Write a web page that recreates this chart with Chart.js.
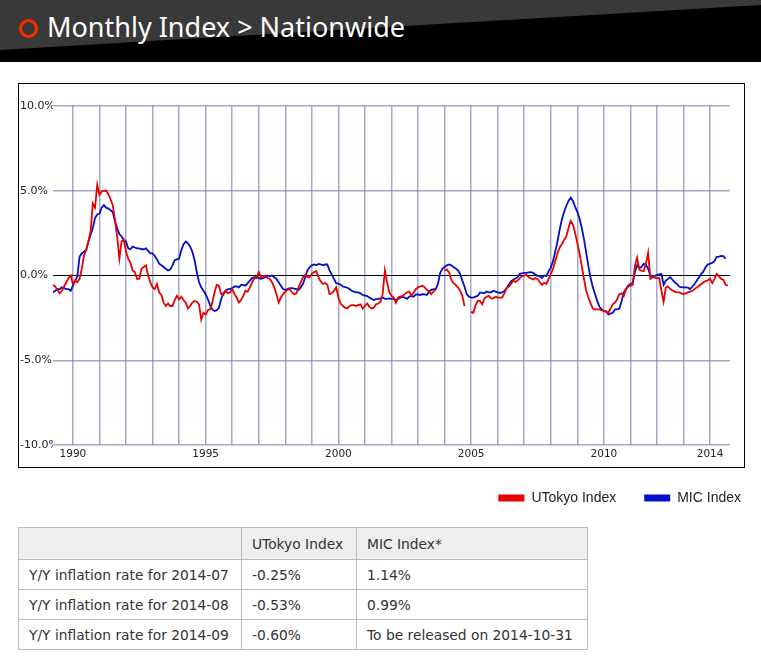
<!DOCTYPE html>
<html>
<head>
<meta charset="utf-8">
<script src="https://cdn.jsdelivr.net/npm/chart.js@4/dist/chart.umd.min.js"></script>
<style>
  html, body { margin: 0; padding: 0; }
  body { width: 761px; height: 658px; overflow: hidden; background: #fff; position: relative; }
  #hdr { position: absolute; left: 0; top: 0; width: 761px; height: 62px; background: #000; overflow: hidden; }
  #hdr .gray { position: absolute; left: 0; top: 0; width: 761px; height: 62px; background: #393939;
    clip-path: polygon(0 0, 100% 0, 100% 5px, 0 50px); }
  #ring { position: absolute; left: 19px; top: 19px; width: 19px; height: 19px; box-sizing: border-box;
    border: 3.5px solid #ff2a00; border-radius: 50%; }
  #title { position: absolute; left: 47px; top: 13px; font-family: "Noto Sans", sans-serif; font-size: 27px;
    line-height: 1; color: #fff; white-space: nowrap; }
  #cv { position: absolute; left: 0; top: 83px; }
  table { position: absolute; left: 18px; top: 527px; border-collapse: collapse;
    font-family: "DejaVu Sans", sans-serif; font-size: 13.8px; color: #333; }
  td { border: 1px solid #bbb; padding: 0 0 0 10px; height: 29px; }
  tr.head td { background: #eeeeee; height: 31px; }
</style>
</head>
<body>
<div id="hdr"><div class="gray"></div><div id="ring"></div><div id="title">Monthly Index &gt; Nationwide</div></div>
<canvas id="cv" width="769" height="432" style="width:769px;height:432px"></canvas>
<table>
  <tr class="head"><td style="width:212px"></td><td style="width:104px">UTokyo Index</td><td style="width:220px">MIC Index*</td></tr>
  <tr><td>Y/Y inflation rate for 2014-07</td><td>-0.25%</td><td>1.14%</td></tr>
  <tr><td>Y/Y inflation rate for 2014-08</td><td>-0.53%</td><td>0.99%</td></tr>
  <tr><td>Y/Y inflation rate for 2014-09</td><td>-0.60%</td><td>To be released on 2014-10-31</td></tr>
</table>
<script>
// ---- data (monthly Y/Y inflation rate, %, starting 1989-04) ----
const startYear = 1989;
const startMonth = 4;
const seriesNames = ['UTokyo Index', 'MIC Index'];
const utokyo = [
  -0.55, -0.65, -0.85, -1.05, -0.9, -0.65, -0.4, -0.15, 0.0, -0.5, -0.3, -0.4,
  -0.2, 0.4, 1.2, 1.5, 2.0, 2.6, 4.25, 4.0, 5.35, 4.75, 4.95, 5.0,
  5.0, 4.8, 4.5, 4.15, 3.3, 2.3, 1.0, 2.0, 2.1, 1.4, 1.0, 0.75,
  0.3, 0.2, -0.2, -0.2, 0.4, 0.5, 0.6, 0.0, -0.4, -0.7, -0.8, -0.5,
  -1.0, -1.15, -1.6, -1.8, -1.65, -1.8, -1.8, -1.45, -1.2, -1.4, -1.25, -1.45,
  -1.6, -1.95, -1.8, -1.6, -1.5, -1.55, -1.7, -2.6, -2.2, -2.3, -2.05, -2.0,
  -1.6, -1.0, -0.55, -0.6, -1.1, -1.15, -0.9, -1.05, -1.0, -0.8, -1.1, -1.3,
  -1.6, -1.45, -1.2, -0.9, -0.95, -0.7, -0.4, -0.15, -0.15, 0.2, -0.1, -0.1,
  0.0, -0.15, -0.2, -0.4, -0.7, -1.1, -1.6, -1.3, -1.1, -0.95, -0.85, -0.8,
  -1.0, -1.1, -1.05, -0.7, -0.4, -0.1, 0.05, -0.1, -0.1, 0.1, 0.2, 0.25,
  -0.1, -0.35, -0.5, -0.45, -0.55, -1.1, -1.05, -0.9, -0.7, -1.3, -1.65, -1.8,
  -1.9, -1.95, -1.8, -1.75, -1.75, -1.8, -1.75, -1.7, -1.95, -1.8, -1.65, -1.85,
  -1.95, -1.9, -1.7, -1.65, -1.55, -1.1, 0.3, -0.4, -1.0, -1.2, -1.3, -1.6,
  -1.3, -1.25, -1.2, -1.1, -1.0, -0.95, -1.2, -1.0, -0.8, -0.7, -0.65, -0.6,
  -0.7, -0.85, -0.95, -1.1, -0.95, -0.82, null, null, null, 0.3, 0.35, 0.2,
  -0.25, -0.45, -0.55, -0.7, -0.9, -1.2, -1.8, null, null, -2.15, -2.2, -1.75,
  -1.5, -1.5, -1.7, -1.35, -1.25, -1.2, -1.35, -1.35, -1.25, -1.3, -1.3, -1.3,
  -1.05, -0.75, -0.65, -0.5, -0.3, -0.38, -0.3, -0.15, -0.05, 0.0, 0.04, -0.1,
  -0.18, -0.24, -0.15, -0.2, -0.4, -0.55, -0.42, -0.5, -0.2, 0.1, 0.38, 0.85,
  1.3, 1.65, 1.85, 2.1, 2.3, 2.8, 3.22, 3.0, 2.5, 1.9, 1.3, 0.55,
  -0.2, -0.9, -1.3, -1.65, -1.95, -2.0, -2.0, -2.0, -2.05, -2.1, -2.15, -2.2,
  -1.95, -1.7, -1.6, -1.4, -1.1, -1.05, -1.2, -0.8, -0.65, -0.6, -0.55, 0.55,
  1.05, 0.35, 0.28, 0.25, 0.7, 1.35, -0.2, -0.1, -0.12, -0.15, -0.15, -0.9,
  -1.55, -0.7, -0.65, -0.8, -0.88, -0.95, -1.0, -1.0, -1.05, -1.1, -1.05, -1.0,
  -0.95, -0.9, -0.8, -0.7, -0.6, -0.5, -0.4, -0.33, -0.28, -0.2, -0.45, -0.2,
  0.1, -0.05, -0.2, -0.25, -0.53, -0.60
];
const mic = [
  -1.0, -0.9, -0.8, -0.8, -0.7, -0.75, -0.8, -0.8, -0.9, -0.6, -0.3, -0.05,
  1.1, 1.3, 1.4, 1.5, 2.0, 2.4, 2.8, 3.4, 3.6, 3.65, 4.0, 4.15,
  4.0, 3.95, 3.85, 3.75, 3.2, 2.8, 2.45, 2.3, 2.1, 2.0, 1.6, 1.55,
  1.7, 1.65, 1.6, 1.6, 1.55, 1.55, 1.6, 1.45, 1.3, 1.3, 1.15, 0.95,
  0.7, 0.6, 0.5, 0.4, 0.3, 0.35, 0.6, 0.9, 0.95, 1.0, 1.5, 1.85,
  2.0, 1.9, 1.7, 1.4, 0.9, 0.2, -0.4, -0.7, -0.9, -1.1, -1.4, -1.75,
  -2.0, -2.1, -2.05, -1.9, -1.4, -1.05, -0.9, -0.8, -0.8, -0.75, -0.65, -0.65,
  -0.7, -0.55, -0.55, -0.6, -0.45, -0.3, -0.15, -0.1, -0.1, -0.15, -0.2, -0.15,
  -0.1, 0.0, -0.05, 0.0, -0.1, -0.2, -0.4, -0.6, -0.8, -0.85, -0.8, -0.75,
  -0.75, -0.78, -0.8, -0.85, -0.7, -0.5, -0.1, 0.3, 0.5, 0.6, 0.65, 0.6,
  0.68, 0.65, 0.6, 0.65, 0.65, 0.3, 0.05, -0.2, -0.45, -0.48, -0.55, -0.65,
  -0.68, -0.72, -0.8, -0.9, -0.95, -1.0, -1.0, -1.05, -1.15, -1.18, -1.22, -1.3,
  -1.38, -1.45, -1.4, -1.38, -1.35, -1.3, -1.38, -1.38, -1.35, -1.38, -1.4, -1.45,
  -1.38, -1.3, -1.26, -1.3, -1.38, -1.25, -1.22, -1.25, -1.12, -1.12, -1.15, -1.1,
  -1.12, -1.15, -0.95, -0.85, -0.8, -0.8, -0.5, 0.15, 0.4, 0.5, 0.6, 0.65,
  0.6, 0.5, 0.42, 0.3, 0.1, -0.3, -0.65, -1.1, -1.25, -1.3, -1.3, -1.25,
  -1.2, -1.0, -1.02, -1.05, -0.95, -1.0, -1.0, -0.9, -0.95, -1.0, -1.03, -1.0,
  -0.92, -0.75, -0.55, -0.35, -0.25, -0.18, -0.1, 0.1, 0.13, 0.15, 0.16, 0.18,
  0.2, 0.16, 0.05, -0.02, -0.04, -0.15, 0.0, -0.04, 0.25, 0.45, 0.85, 1.4,
  2.0, 2.7, 3.3, 3.75, 4.1, 4.4, 4.6, 4.4, 4.05, 3.75, 3.35, 2.8,
  2.15, 1.35, 0.55, -0.15, -0.7, -1.1, -1.5, -1.85, -2.0, -2.1, -2.1, -2.3,
  -2.25, -2.2, -2.0, -2.0, -1.95, -1.5, -1.0, -0.8, -0.6, -0.5, -0.45, 0.2,
  0.6, 0.45, 0.5, 0.7, 0.62, 0.4, 0.0, -0.03, -0.02, 0.04, 0.06, 0.1,
  -0.55, -0.3, -0.2, -0.1, -0.25, -0.4, -0.5, -0.65, -0.7, -0.7, -0.7, -0.72,
  -0.8, -0.65, -0.5, -0.3, -0.1, 0.1, 0.24, 0.5, 0.65, 0.7, 0.75, 0.85,
  1.1, 1.12, 1.15, 1.14, 0.99, null
];
const xTickLabels = ['1990', '1995', '2000', '2005', '2010', '2014'];
const yTickValues = [-10, -5, 0, 5, 10];

// ---- categories: month labels ----
const months = utokyo.map((_, i) => {
  const m = startMonth - 1 + i;
  const y = startYear + Math.floor(m / 12);
  return y + '-' + String(m % 12 + 1).padStart(2, '0');
});
const monthToX = s => { const [y, m] = s.split('-').map(Number); return y + (m - 1) / 12; };
const toPoints = arr => arr.map((v, i) => ({ x: monthToX(months[i]), y: v }));

const RED = '#e60000';
const BLUE = '#0010c8';
const GRID = 'rgba(120,120,170,0.65)';

const boxPlugin = {
  id: 'box',
  beforeDraw(chart) {
    const c = chart.ctx;
    c.save();
    c.strokeStyle = '#000';
    c.lineWidth = 1;
    c.strokeRect(18.5, 0.5, 726, 384);
    c.restore();
  }
};

new Chart(document.getElementById('cv'), {
  type: 'line',
  data: {
    datasets: [
      { label: seriesNames[0], data: toPoints(utokyo), borderColor: RED, backgroundColor: RED,
        borderWidth: 1.8, pointRadius: 0, tension: 0, spanGaps: false },
      { label: seriesNames[1], data: toPoints(mic), borderColor: BLUE, backgroundColor: BLUE,
        borderWidth: 1.8, pointRadius: 0, tension: 0, spanGaps: false }
    ]
  },
  options: {
    responsive: false,
    animation: false,
    layout: { padding: { left: 20, right: 0, top: 23, bottom: 0 } },
    plugins: {
      tooltip: { enabled: false },
      legend: {
        position: 'bottom', align: 'end',
        labels: {
          boxWidth: 26, boxHeight: 7, padding: 28, color: '#222',
          font: { family: '"Liberation Sans", Arial, sans-serif', size: 14 },
          generateLabels(chart) {
            return Chart.defaults.plugins.legend.labels.generateLabels(chart).map(it => {
              it.lineWidth = 0; it.strokeStyle = 'transparent'; return it;
            });
          }
        }
      }
    },
    scales: {
      x: {
        type: 'linear', min: 1989.25, max: 2014.75,
        afterBuildTicks(s) {
          const t = [];
          for (let y = Math.ceil(s.min); y <= Math.floor(s.max); y++) t.push({ value: y });
          s.ticks = t;
        },
        afterFit(s) { s.height = 18; },
        border: { display: false },
        grid: { color: GRID, lineWidth: 1.5, drawTicks: false },
        ticks: {
          autoSkip: false, maxRotation: 0, padding: 3, color: '#222',
          font: { family: '"DejaVu Sans", Verdana, sans-serif', size: 10.5 },
          callback: v => xTickLabels.includes(String(Math.round(v))) ? String(Math.round(v)) : ''
        }
      },
      y: {
        min: -10, max: 10,
        afterBuildTicks(s) { s.ticks = yTickValues.map(v => ({ value: v })); },
        afterFit(s) { s.width = 33; },
        border: { display: false },
        grid: {
          drawTicks: false,
          color: c => c.tick && c.tick.value === 0 ? '#000' : GRID,
          lineWidth: c => c.tick && c.tick.value === 0 ? 1 : 1.5
        },
        ticks: {
          crossAlign: 'far', padding: 0, color: '#222',
          font: { family: '"DejaVu Sans", Verdana, sans-serif', size: 11 },
          showLabelBackdrop: true, backdropColor: '#fff', backdropPadding: { left: 0, right: 1, top: 0, bottom: 0 },
          callback: v => v.toFixed(1) + '%'
        }
      },
      yR: {
        type: 'linear', position: 'right',
        grid: { display: false }, border: { display: false }, ticks: { display: false },
        afterFit(s) { s.width = 39; }
      }
    }
  },
  plugins: [boxPlugin]
});
</script>
</body>
</html>
